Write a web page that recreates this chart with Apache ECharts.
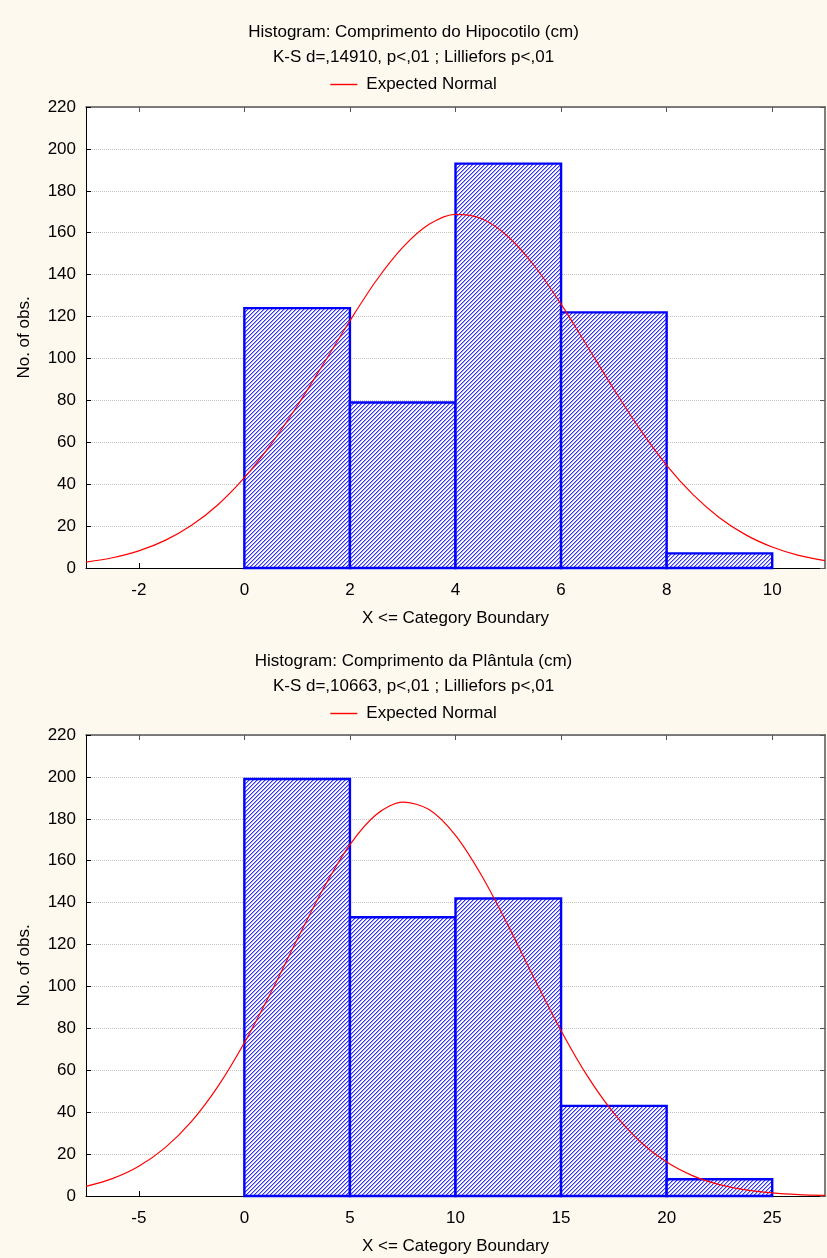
<!DOCTYPE html>
<html>
<head>
<meta charset="utf-8">
<script src="https://cdn.jsdelivr.net/npm/echarts@6/dist/echarts.min.js"></script>
<style>
  html, body { margin: 0; padding: 0; background: #fdf9ef; }
  #chart { width: 827px; height: 1258px; }
</style>
</head>
<body>
<div id="chart"></div>
<script>
// Hypocotyl length histogram (cm): class boundaries and counts
const hipoEdges = [0, 2, 4, 6, 8, 10];
const hipoCounts = [124, 79, 193, 122, 7];
// Expected normal curve for the hypocotyl data
const hipoCurveX = [-3, -2.5, -2, -1.5, -1, -0.5, 0, 0.5, 1, 1.5, 2, 2.5, 3, 3.5, 4, 4.5, 5, 5.5, 6, 6.5, 7, 7.5, 8, 8.5, 9, 9.5, 10, 10.5, 11];
const hipoCurveY = [2.8, 4.9, 8.2, 13.2, 20.4, 30.2, 43.1, 58.9, 77.3, 97.5, 118.0, 137.2, 153.0, 164.0, 168.8, 166.7, 158.1, 144.0, 125.9, 105.7, 85.3, 66.0, 49.0, 35.0, 24.0, 15.8, 10.0, 6.0, 3.5];
const hipoTicks = [-2, 0, 2, 4, 6, 8, 10];

// Seedling length histogram (cm)
const plantEdges = [0, 5, 10, 15, 20, 25];
const plantCounts = [199, 133, 142, 43, 8];
const plantCurveX = [-7.5, -6.25, -5, -3.75, -2.5, -1.25, 0, 1.25, 2.5, 3.75, 5, 6.25, 7.5, 8.75, 10, 11.25, 12.5, 13.75, 15, 16.25, 17.5, 18.75, 20, 21.25, 22.5, 23.75, 25, 26.25, 27.5];
const plantCurveY = [4.6, 8.3, 14.2, 23.1, 35.6, 52.3, 73.1, 97.0, 122.4, 146.9, 167.7, 182.1, 188.0, 184.4, 172.1, 152.7, 128.9, 103.4, 78.9, 57.2, 39.5, 25.9, 16.2, 9.6, 5.4, 2.9, 1.5, 0.7, 0.3];
const plantTicks = [-5, 0, 5, 10, 15, 20, 25];

const FONT = 'Liberation Sans, Arial, sans-serif';
const FS = 17;

// Diagonal hatch tile used to fill the bars
function makeHatch() {
  const c = document.createElement('canvas');
  c.width = 4; c.height = 4;
  const ctx = c.getContext('2d');
  const img = ctx.createImageData(4, 4);
  const shades = [[50, 50, 255], [165, 165, 255], [255, 255, 255], [250, 250, 255]];
  for (let y = 0; y < 4; y++) {
    for (let x = 0; x < 4; x++) {
      const s = shades[(x + y) % 4];
      const i = (y * 4 + x) * 4;
      img.data[i] = s[0]; img.data[i + 1] = s[1]; img.data[i + 2] = s[2]; img.data[i + 3] = 255;
    }
  }
  ctx.putImageData(img, 0, 0);
  return { image: c, repeat: 'repeat' };
}
const hatch = makeHatch();

function binData(edges, counts) {
  return counts.map((v, i) => [edges[i], edges[i + 1], v]);
}
function curveData(xs, ys) {
  return xs.map((x, i) => [x, ys[i]]);
}

function renderBin(params, api) {
  const x0 = api.value(0), x1 = api.value(1), v = api.value(2);
  const a = api.coord([x0, v]);
  const b = api.coord([x1, 0]);
  return {
    type: 'rect',
    shape: { x: a[0], y: a[1], width: b[0] - a[0], height: b[1] - a[1] },
    style: { fill: hatch, stroke: '#0000ff', lineWidth: 2.4 }
  };
}

const txt = { fontFamily: FONT, fontSize: FS, color: '#000' };

function bottomX(grid, min, max, ticks) {
  return {
    type: 'value', gridIndex: grid, min: min, max: max, position: 'bottom',
    axisLine: { onZero: false, lineStyle: { color: '#000', width: 1 } },
    axisTick: { inside: true, length: 5, customValues: ticks, lineStyle: { color: '#000' } },
    axisLabel: { customValues: ticks, margin: 14, ...txt },
    splitLine: { show: false },
    name: 'X <= Category Boundary', nameLocation: 'middle', nameGap: 42,
    nameTextStyle: txt
  };
}
function topX(grid, min, max, ticks) {
  return {
    type: 'value', gridIndex: grid, min: min, max: max, position: 'top',
    axisLine: { onZero: false, lineStyle: { color: '#555', width: 1.5 } },
    axisTick: { inside: true, length: 5, customValues: ticks, lineStyle: { color: '#555' } },
    axisLabel: { show: false },
    splitLine: { show: false }
  };
}
function leftY(grid) {
  return {
    type: 'value', gridIndex: grid, min: 0, max: 220, interval: 20, position: 'left',
    axisLine: { show: true, onZero: false, lineStyle: { color: '#000', width: 1 } },
    axisTick: { show: true, inside: true, length: 5, lineStyle: { color: '#000' } },
    axisLabel: { margin: 10, ...txt },
    splitLine: { show: true, lineStyle: { color: '#c4c4c4', type: [1, 1], width: 1 } },
    name: 'No. of obs.', nameLocation: 'middle', nameGap: 53,
    nameTextStyle: txt
  };
}
function rightY(grid) {
  return {
    type: 'value', gridIndex: grid, min: 0, max: 220, interval: 20, position: 'right',
    axisLine: { show: true, onZero: false, lineStyle: { color: '#555', width: 1.5 } },
    axisTick: { show: true, inside: true, length: 5, lineStyle: { color: '#555' } },
    axisLabel: { show: false },
    splitLine: { show: false }
  };
}

const chart = echarts.init(document.getElementById('chart'), null, { renderer: 'canvas' });
chart.setOption({
  animation: false,
  backgroundColor: '#fdf9ef',
  title: [
    {
      text: 'Histogram: Comprimento do Hipocotilo (cm)\nK-S d=,14910, p<,01 ; Lilliefors p<,01',
      left: 'center', top: 20, padding: [0, 0, 0, 12],
      textStyle: { ...txt, fontWeight: 'normal', lineHeight: 25 }
    },
    {
      text: 'Histogram: Comprimento da Plântula (cm)\nK-S d=,10663, p<,01 ; Lilliefors p<,01',
      left: 'center', top: 649, padding: [0, 0, 0, 12],
      textStyle: { ...txt, fontWeight: 'normal', lineHeight: 25 }
    }
  ],
  legend: [
    {
      data: ['Expected Normal'], top: 76, left: 'center', padding: [0, 0, 0, 20],
      icon: 'rect', itemWidth: 27, itemHeight: 1.4, selectedMode: false,
      textStyle: { ...txt, padding: [0, 0, 0, 4] }
    },
    {
      data: ['Expected Normal'], top: 705, left: 'center', padding: [0, 0, 0, 20],
      icon: 'rect', itemWidth: 27, itemHeight: 1.4, selectedMode: false,
      textStyle: { ...txt, padding: [0, 0, 0, 4] }
    }
  ],
  grid: [
    { left: 86, right: 2, top: 107, height: 461, show: true, backgroundColor: '#fff', borderWidth: 0 },
    { left: 86, right: 2, top: 735, height: 461, show: true, backgroundColor: '#fff', borderWidth: 0 }
  ],
  xAxis: [
    bottomX(0, -3, 11, hipoTicks),
    topX(0, -3, 11, hipoTicks),
    bottomX(1, -7.5, 27.5, plantTicks),
    topX(1, -7.5, 27.5, plantTicks)
  ],
  yAxis: [leftY(0), rightY(0), leftY(1), rightY(1)],
  series: [
    {
      type: 'custom', name: 'Hipocotilo', xAxisIndex: 0, yAxisIndex: 0,
      renderItem: renderBin, encode: { x: [0, 1], y: 2 },
      data: binData(hipoEdges, hipoCounts), z: 2
    },
    {
      type: 'line', name: 'Expected Normal', xAxisIndex: 0, yAxisIndex: 0,
      data: curveData(hipoCurveX, hipoCurveY), smooth: 0.3, smoothMonotone: 'none', showSymbol: false,
      lineStyle: { color: '#ff0000', width: 1.2 }, itemStyle: { color: '#ff0000' }, z: 3
    },
    {
      type: 'custom', name: 'Plântula', xAxisIndex: 2, yAxisIndex: 2,
      renderItem: renderBin, encode: { x: [0, 1], y: 2 },
      data: binData(plantEdges, plantCounts), z: 2
    },
    {
      type: 'line', name: 'Expected Normal', xAxisIndex: 2, yAxisIndex: 2,
      data: curveData(plantCurveX, plantCurveY), smooth: 0.3, smoothMonotone: 'none', showSymbol: false,
      lineStyle: { color: '#ff0000', width: 1.2 }, itemStyle: { color: '#ff0000' }, z: 3
    }
  ]
});
</script>
</body>
</html>
